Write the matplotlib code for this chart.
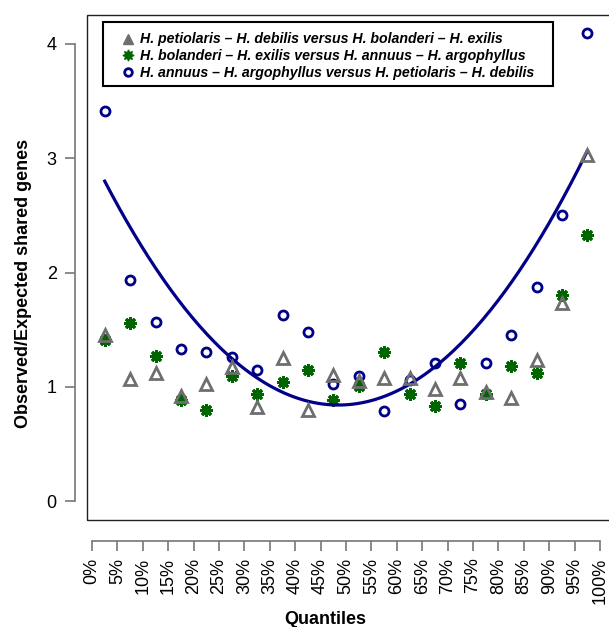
import numpy as np
import matplotlib
matplotlib.use("Agg")
import matplotlib.pyplot as plt
from matplotlib.patches import Rectangle
from matplotlib.lines import Line2D

plt.rcParams["font.family"] = ["Liberation Sans", "DejaVu Sans"]

# ---------------------------------------------------------------------------
# data (midpoints of 5% quantile bins)
quantile_mid = [2.5, 7.5, 12.5, 17.5, 22.5, 27.5, 32.5, 37.5, 42.5, 47.5,
                52.5, 57.5, 62.5, 67.5, 72.5, 77.5, 82.5, 87.5, 92.5, 97.5]

pet_deb = [1.45, 1.07, 1.12, 0.92, 1.02, 1.17, 0.82, 1.25, 0.80, 1.10,
           1.05, 1.08, 1.08, 0.98, 1.08, 0.95, 0.90, 1.23, 1.73, 3.03]
bol_exi = [1.41, 1.56, 1.27, 0.88, 0.80, 1.09, 0.94, 1.04, 1.15, 0.88,
           1.01, 1.30, 0.94, 0.83, 1.21, 0.94, 1.18, 1.12, 1.80, 2.33]
ann_arg = [3.41, 1.93, 1.57, 1.33, 1.30, 1.26, 1.15, 1.63, 1.48, 1.02,
           1.09, 0.79, 1.06, 1.21, 0.85, 1.21, 1.45, 1.87, 2.50, 4.10]

# quadratic trend: a * (x - vertex)^2 + minimum
trend_a = 0.000926
trend_vertex = 48.5
trend_min = 0.84

tick_pos = list(range(0, 101, 5))
tick_lab = [f"{t}%" for t in tick_pos]
legend_labels = [
    "H. petiolaris \u2013 H. debilis versus H. bolanderi \u2013 H. exilis",
    "H. bolanderi \u2013 H. exilis versus H. annuus \u2013 H. argophyllus",
    "H. annuus \u2013 H. argophyllus versus H. petiolaris \u2013 H. debilis",
]
# ---------------------------------------------------------------------------

W, H = 609, 627
fig = plt.figure(figsize=(W / 100, H / 100), dpi=100)
left, right, top, bottom = 86.5, 620, 15, 520
ax = fig.add_axes([left / W, (H - bottom) / H, (right - left) / W, (bottom - top) / H])

# pixel mapping: x 0 -> 92px, 100 -> 600px ; y 0 -> 501px, 4 -> 44px
xs = 5.08
ys = 114.25
ax.set_xlim(-(92 - left) / xs, 100 + (right - 600) / xs)
ax.set_ylim(-(bottom - 501) / ys, 4 + (44 - top) / ys)

ax.add_patch(Rectangle((0, 0), 1, 1, transform=ax.transAxes, fill=False,
                       edgecolor="#222222", lw=1.0, clip_on=False, zorder=5))

grey = "#6e6e6e"
green = "#006400"
navy = "#000088"

ax.plot(quantile_mid, ann_arg, linestyle="none", marker="o", ms=6.5,
        mfc="none", mec=navy, mew=2.0, zorder=2)
ax.plot(quantile_mid, bol_exi, linestyle="none", marker=(8, 2, 0), ms=9,
        mec=green, mew=2.2, zorder=3)
ax.plot(quantile_mid, pet_deb, linestyle="none", marker="^", ms=8,
        mfc="none", mec=grey, mew=2.0, zorder=4)

xc = np.linspace(quantile_mid[0], quantile_mid[-1], 200)
ax.plot(xc, trend_a * (xc - trend_vertex) ** 2 + trend_min, color=navy, lw=2.3, zorder=3)

# R-style detached axes
for s in ["top", "right"]:
    ax.spines[s].set_visible(False)
ax.spines["left"].set_position(("outward", 8.5))
ax.spines["left"].set_bounds(0, 4)
ax.spines["bottom"].set_position(("outward", 15))
ax.spines["bottom"].set_bounds(0, 100)
for s in ["left", "bottom"]:
    ax.spines[s].set_color("#777777")
    ax.spines[s].set_linewidth(1.2)

ax.set_yticks([0, 1, 2, 3, 4])
ax.set_xticks(tick_pos)
ax.set_xticklabels(tick_lab, rotation=90)
ax.tick_params(axis="both", length=7, width=1.2, color="#777777", labelsize=13)
ax.tick_params(axis="y", pad=6)
ax.tick_params(axis="x", pad=5)

fig.text(24 / W, 1 - 283 / H, "Observed/Expected shared genes", rotation=90,
         ha="center", va="center", fontsize=13, fontweight="bold")
fig.text(325 / W, 1 - 619 / H, "Quantiles", ha="center", va="center",
         fontsize=13, fontweight="bold")

# legend: frame drawn separately so the padding matches the original
fig.patches.append(Rectangle((103 / W, 1 - 86 / H), 450 / W, 64 / H,
                             transform=fig.transFigure, fill=False,
                             edgecolor="black", lw=1.5, zorder=6))
handles = [
    Line2D([], [], linestyle="none", marker="^", ms=6.5, color=grey, mec=grey),
    Line2D([], [], linestyle="none", marker=(8, 1, 0), ms=8, color=green, mec=green),
    Line2D([], [], linestyle="none", marker="o", ms=5.5, mfc="none", mec=navy, mew=2),
]
leg = ax.legend(handles, legend_labels, loc="upper left",
                bbox_to_anchor=(121 / W, 1 - 32.5 / H), bbox_transform=fig.transFigure,
                borderaxespad=0, borderpad=0, frameon=False, handlelength=1.0,
                handletextpad=0.35, labelspacing=0.2,
                prop={"family": "Liberation Sans", "weight": "bold",
                      "style": "italic", "size": 10.2})
leg.set_zorder(6)

fig.savefig("out.png", dpi=100)
